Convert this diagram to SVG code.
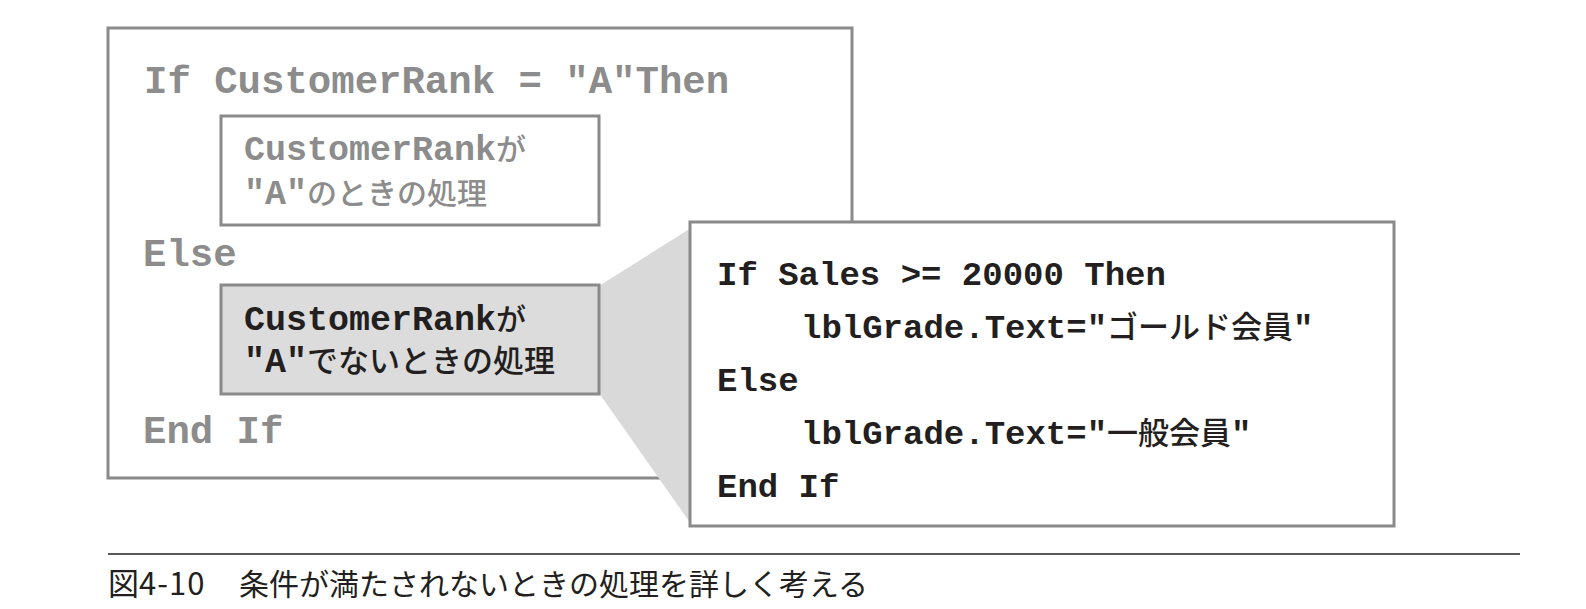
<svg xmlns="http://www.w3.org/2000/svg" width="1586" height="609" viewBox="0 0 1586 609">
<style>
.box{fill:#ffffff;stroke:#8a8a8a;stroke-width:3}
.gbox{fill:#dcdcdc;stroke:#8a8a8a;stroke-width:3}
.code{font-family:"Liberation Mono","Noto Sans CJK JP",monospace;font-weight:bold}
.gray{fill:#8c8c8c}
.dark{fill:#231f20}
.jp{font-family:"Noto Sans CJK JP",sans-serif;font-weight:500}
.cap{font-family:"Noto Sans CJK JP",sans-serif;fill:#231f20;font-weight:normal}
</style>
<rect width="1586" height="609" fill="#ffffff"/>
<g id="outer">
<rect class="box" x="108" y="28" width="744" height="450"/>
<text class="code gray" x="144" y="93" font-size="39">If CustomerRank = "A"Then</text>
<text class="code gray" x="143" y="266" font-size="39">Else</text>
<text class="code gray" x="143" y="443" font-size="39">End If</text>
</g>
<g id="box-true">
<rect class="box" x="221" y="116" width="378" height="109"/>
<text class="code gray" x="244" y="160" font-size="35">CustomerRank<tspan class="jp" font-size="30">が</tspan></text>
<text class="code gray" x="244" y="204" font-size="35">"A"<tspan class="jp" font-size="30">のときの処理</tspan></text>
</g>
<g id="callout">
<polygon points="599,286 691,228 691,524 599,393" fill="#d9d9d9"/>
</g>
<g id="box-false">
<rect class="gbox" x="221" y="285" width="378" height="109"/>
<text class="code dark" x="244" y="330" font-size="35">CustomerRank<tspan class="jp" font-size="30">が</tspan></text>
<text class="code dark" x="244" y="372" font-size="35">"A"<tspan class="jp" font-size="31">でないときの処理</tspan></text>
</g>
<g id="detail">
<rect class="box" x="690" y="222" width="704" height="304"/>
<text class="code dark" x="717" y="285" font-size="34">If Sales &gt;= 20000 Then</text>
<text class="code dark" x="801" y="338" font-size="34">lblGrade.Text="<tspan class="jp" font-size="31">ゴールド会員</tspan>"</text>
<text class="code dark" x="717" y="391" font-size="34">Else</text>
<text class="code dark" x="801" y="444" font-size="34">lblGrade.Text="<tspan class="jp" font-size="31">一般会員</tspan>"</text>
<text class="code dark" x="717" y="497" font-size="34">End If</text>
</g>
<g id="caption">
<line x1="108" y1="554" x2="1520" y2="554" stroke="#231f20" stroke-width="1.5"/>
<text class="cap" x="108" y="595" font-size="31">図<tspan letter-spacing="1">4-10</tspan></text>
<text class="cap" x="239" y="595" font-size="30">条件が満たされないときの処理を詳しく考える</text>
</g>
</svg>
